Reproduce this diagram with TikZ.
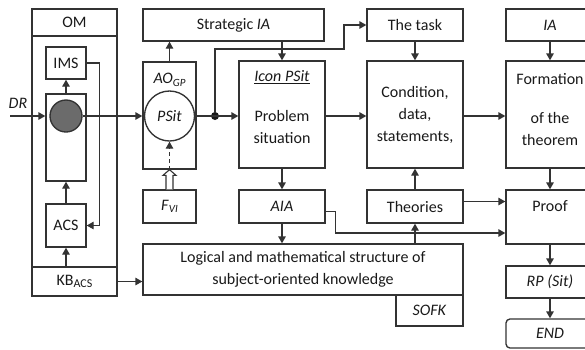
\documentclass[tikz,border=0pt]{standalone}
\usepackage{fontspec}
\setmainfont{Carlito}
\usetikzlibrary{arrows.meta,calc}
\begin{document}
\begin{tikzpicture}[x=1pt,y=-1pt,
  lc/.style={draw=black!80, line width=1.35pt},
  box/.style={lc, rectangle, inner sep=0pt, font=\fontsize{16}{22}\selectfont, text=black!90, align=center},
  txt/.style={inner sep=0pt, font=\fontsize{16}{22}\selectfont, text=black!90, align=center},
  arr/.style={lc, -{Triangle[length=7pt,width=7.5pt]}}
]
\useasboundingbox (0,0) rectangle (585,349);
% left block
\node[box, minimum width=85pt, minimum height=287pt] (omf) at (74.5,152.5) {};
\node[box, minimum width=85pt, minimum height=27pt] (om) at (74.5,22.5) {OM};
\node[box, minimum width=85pt, minimum height=29pt] (kb) at (74.5,281.5) {KB\raisebox{-0.35ex}{\fontsize{12}{12}\selectfont ACS}};
\node[box, minimum width=40pt, minimum height=32pt] (ims) at (66,63) {IMS};
\node[box, minimum width=40pt, minimum height=87pt] (inner) at (66,137.5) {};
\node[lc, circle, fill=black!58, minimum size=32pt, inner sep=0pt] (gc) at (66,116) {};
\node[box, minimum width=40pt, minimum height=43pt] (acs) at (66,225.5) {ACS};
\coordinate (dr) at (10,116);
\node[txt] (drl) at (18,103) {\itshape DR};
% second column
\node[box, minimum width=181pt, minimum height=32pt] (str) at (233.5,25) {Strategic \textit{IA}};
\node[box, minimum width=53pt, minimum height=107pt] (ao) at (169.5,115.5) {};
\node[txt] (aol) at (169.5,80) {\textit{AO}\raisebox{-0.35ex}{\fontsize{11}{11}\selectfont\itshape GP}};
\node[lc, circle, fill=white, minimum size=50pt, inner sep=0pt, font=\fontsize{16}{22}\selectfont\itshape, text=black!90] (ps) at (169.5,116) {PSit};
\node[box, minimum width=53pt, minimum height=33pt] (fvi) at (169.5,206.5) {\textit{F}\raisebox{-0.35ex}{\fontsize{11}{11}\selectfont\itshape VI}};
\node[circle, fill=black!90, minimum size=8pt, inner sep=0pt] (dot) at (215,116) {};
% third column
\node[box, minimum width=86pt, minimum height=107pt] (icon) at (282,114.5) {};
\node[txt] (iconl) at (282,77) {\underline{\textit{Icon PSit}}};
\node[txt] (probl) at (282,127) {Problem\\situation};
\node[box, minimum width=86pt, minimum height=33pt] (aia) at (282,206.5) {\textit{AIA}};
% fourth column
\node[box, minimum width=96pt, minimum height=32pt] (task) at (415,25) {The task};
\node[box, minimum width=96pt, minimum height=107pt] (cond) at (415,114.5) {Condition,\\data,\\statements,};
\node[box, minimum width=96pt, minimum height=33pt] (theo) at (415,206.5) {Theories};
% bottom
\node[box, minimum width=320pt, minimum height=51pt] (logic) at (303,269.5) {Logical and mathematical structure of\\subject-oriented knowledge};
\node[box, minimum width=67pt, minimum height=31pt] (sofk) at (429.5,310.5) {\textit{SOFK}};
% right column
\node[box, minimum width=88pt, minimum height=32pt] (ia) at (550,25) {\textit{IA}};
\node[box, minimum width=88pt, minimum height=107pt] (form) at (550,114.5) {};
\node[txt] (forml) at (550,79) {Formation};
\node[txt] (forml2) at (550,128.5) {of the\\theorem};
\node[box, minimum width=88pt, minimum height=54pt] (proof) at (550,217) {};
\node[txt] (proofl) at (550,206) {Proof};
\node[box, minimum width=88pt, minimum height=32pt] (rp) at (550,282) {\textit{RP (Sit)}};
\node[box, rounded corners=4pt, minimum width=88pt, minimum height=29pt] (end) at (550,333.5) {\textit{END}};
% connectors
\draw[arr] (dr) -- (inner.west |- dr);
\draw[arr] (gc.east) -- (ao.west |- gc.east);
\draw[arr] (inner.north) -- (ims.south);
\draw[arr] (ims.east) -- ++(13,0) |- (acs.east);
\draw[arr] (acs.north) -- (inner.south);
\draw[arr] (acs.south |- kb.north) -- (acs.south);
\draw[arr] (kb.east) -- (kb.east -| logic.west);
\draw[arr] (ao.north) -- (ao.north |- str.south);
\draw[lc, line width=1.1pt, fill=white] ($(fvi.north)+(-3.5,0)$) -- ($(fvi.north)+(-3.5,-14)$) -- ($(fvi.north)+(-6.5,-14)$) -- (ao.south) -- ($(fvi.north)+(6.5,-14)$) -- ($(fvi.north)+(3.5,-14)$) -- ($(fvi.north)+(3.5,0)$);
\draw[arr, dash pattern=on 4pt off 3pt] (ao.south) -- (ps.south);
\draw[arr] (ps.east) -- (ps.east -| icon.west);
\coordinate (bend) at (344,49);
\draw[arr] (dot) |- (bend) |- (task.west);
\draw[arr] (icon.north |- str.south) -- (icon.north);
\draw[arr] (ps.east -| icon.east) -- (ps.east -| cond.west);
\draw[arr] (task.south) -- (cond.north);
\draw[arr] (ps.east -| cond.east) -- (ps.east -| form.west);
\draw[arr] (ia.south) -- (form.north);
\draw[arr] (form.south) -- (proof.north);
\draw[arr] (proof.south) -- (rp.north);
\draw[arr] (rp.south) -- (end.north);
\draw[arr] (icon.south) -- (aia.north);
\draw[arr] (aia.south) -- (aia.south |- logic.north);
\draw[arr] (theo.north) -- (cond.south);
\draw[arr] (theo.south |- logic.north) -- (theo.south);
\coordinate (t1) at ($(theo.east)+(0,-5)$);
\draw[arr] (t1) -- (t1 -| proof.west);
\coordinate (a1) at ($(aia.east)+(0,5)$);
\coordinate (p1) at ($(proof.west)+(0,16)$);
\draw[arr] (a1) -- ++(10,0) |- (p1);
\end{tikzpicture}
\end{document}
